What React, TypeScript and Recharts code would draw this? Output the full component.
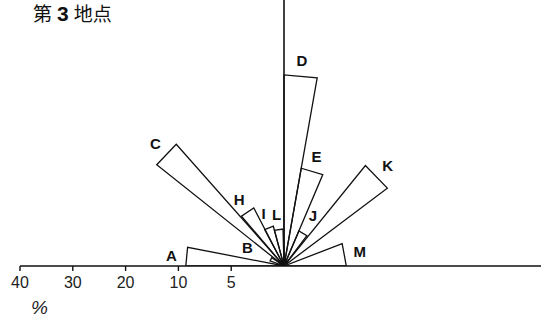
import React from 'react';
import { ComposedChart, Line, Scatter, XAxis, YAxis, ReferenceLine } from 'recharts';

// Wedge sectors: compass-like directions (degrees, 0 = east, counter-clockwise) and share in percent
const wedgeNames = ['A', 'B', 'C', 'D', 'E', 'H', 'I', 'J', 'K', 'L', 'M'];
const wedgeFrom = [169, 146, 131.5, 80, 67, 117.5, 105, 53, 37, 91.5, 0];
const wedgeTo = [180, 160, 141.5, 90, 80, 130.5, 118, 67, 51, 105, 21];
const wedgePercent = [9.3, 1.4, 20.8, 26.2, 9.4, 6.2, 3.9, 3.6, 14.5, 3.5, 5.9];

// Radial scale tick labels (percent)
const tickPercents = [40, 30, 20, 10, 5];

// Radial scale: 0–10 % spans two rings, every further 10 % one ring
const toRing = (v: number) => (v <= 10 ? v / 5 : 2 + (v - 10) / 10);
const fromRing = (u: number) => (u <= 2 ? u * 5 : 10 + (u - 2) * 10);

const W = 541;
const H = 326;
const LEFT = 20;
const AXIS_Y = 266;
const CENTER_X = 284;
const UNIT = (CENTER_X - LEFT) / 5;
const X_DOMAIN: [number, number] = [-5, (W - CENTER_X) / UNIT];
const Y_DOMAIN: [number, number] = [0, AXIS_Y / UNIT];

const rad = (d: number) => (d * Math.PI) / 180;

const wedges = wedgeNames.map((name, i) => {
  const r = toRing(wedgePercent[i]);
  const a1 = rad(wedgeFrom[i]);
  const a2 = rad(wedgeTo[i]);
  return {
    name,
    points: [
      { x: 0, y: 0 },
      { x: r * Math.cos(a1), y: r * Math.sin(a1) },
      { x: r * Math.cos(a2), y: r * Math.sin(a2) },
      { x: 0, y: 0 },
    ],
  };
});

// distance of each letter beyond its wedge tip, in ring units
const labelGap: Record<string, number> = { B: 0.5, J: 0.38 };

const labelPoints = wedgeNames.map((name, i) => {
  const mid = rad((wedgeFrom[i] + wedgeTo[i]) / 2);
  const r = toRing(wedgePercent[i]) + (labelGap[name] ?? 0.28);
  return { name, x: r * Math.cos(mid), y: r * Math.sin(mid) };
});

const LetterShape = (props: any) => (
  <text
    x={props.cx}
    y={props.cy}
    textAnchor="middle"
    dominantBaseline="central"
    fontFamily="Liberation Sans, Arial, sans-serif"
    fontWeight="bold"
    fontSize={15}
    fill="#111"
  >
    {props.payload.name}
  </text>
);

export default function App() {
  return (
    <div style={{ position: 'absolute', left: 0, top: 0, width: W, height: H, background: '#fff' }}>
      <ComposedChart
        width={W}
        height={H}
        margin={{ top: 0, right: 0, left: LEFT, bottom: H - AXIS_Y - 30 }}
      >
        <XAxis
          type="number"
          dataKey="x"
          domain={X_DOMAIN}
          allowDataOverflow
          ticks={tickPercents.map((p) => -toRing(p))}
          interval={0}
          tickFormatter={(u: number) => String(Math.round(fromRing(-u)))}
          axisLine={{ stroke: '#111', strokeWidth: 1.6 }}
          tickLine={{ stroke: '#111', strokeWidth: 1.4 }}
          tickSize={5}
          tickMargin={6}
          tick={{ fill: '#222', fontSize: 16, fontFamily: 'Liberation Sans, Arial, sans-serif' }}
          height={30}
        />
        <YAxis type="number" dataKey="y" domain={Y_DOMAIN} allowDataOverflow hide width={0} />
        <ReferenceLine x={0} stroke="#111" strokeWidth={1.6} ifOverflow="visible" />
        {wedges.map((w) => (
          <Line
            key={w.name}
            data={w.points}
            dataKey="y"
            type="linear"
            stroke="#111"
            strokeWidth={1.3}
            dot={false}
            activeDot={false}
            isAnimationActive={false}
          />
        ))}
        <Scatter data={labelPoints} dataKey="y" shape={<LetterShape />} isAnimationActive={false} />
      </ComposedChart>
      <div
        style={{
          position: 'absolute',
          left: 33,
          top: 3,
          fontFamily: '"Noto Sans CJK JP", sans-serif',
          fontSize: 19,
          lineHeight: '19px',
          color: '#111',
          whiteSpace: 'nowrap',
        }}
      >
        第
        <span
          style={{
            fontFamily: 'Liberation Sans, Arial, sans-serif',
            fontWeight: 'bold',
            fontSize: 21,
            margin: '0 5px 0 5px',
          }}
        >
          3
        </span>
        地点
      </div>
      <div
        style={{
          position: 'absolute',
          left: 31,
          top: 298,
          fontFamily: 'Liberation Sans, Arial, sans-serif',
          fontStyle: 'italic',
          fontSize: 19,
          lineHeight: '19px',
          color: '#222',
        }}
      >
        %
      </div>
    </div>
  );
}
